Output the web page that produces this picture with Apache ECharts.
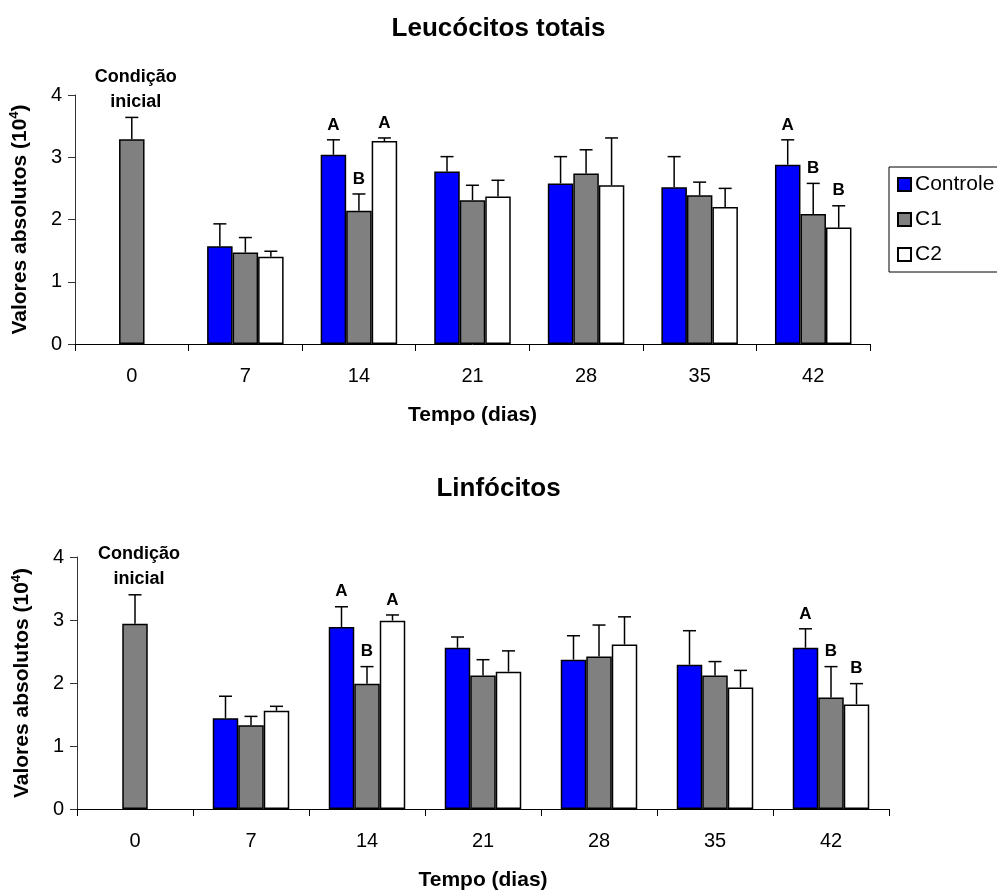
<!DOCTYPE html>
<html>
<head>
<meta charset="utf-8">
<script src="https://cdn.jsdelivr.net/npm/echarts@6/dist/echarts.min.js"></script>
<style>
html,body{margin:0;padding:0;background:#fff;}
#chart{width:997px;height:892px;}
</style>
</head>
<body>
<div id="chart"></div>
<script>
// ---- data ----
const categories = ['0', '7', '14', '21', '28', '35', '42'];
const seriesNames = ['Controle', 'C1', 'C2'];

// Leucócitos totais (mean, SD)
const leucControle   = [null, 1.57, 3.04, 2.77, 2.58, 2.52, 2.88];
const leucControleSD = [null, 0.36, 0.24, 0.24, 0.43, 0.49, 0.40];
const leucC1         = [3.29, 1.47, 2.14, 2.31, 2.74, 2.39, 2.09];
const leucC1SD       = [0.35, 0.24, 0.27, 0.24, 0.38, 0.21, 0.49];
const leucC2         = [null, 1.40, 3.26, 2.37, 2.55, 2.20, 1.87];
const leucC2SD       = [null, 0.09, 0.05, 0.26, 0.76, 0.30, 0.35];

// Linfócitos (mean, SD)
const linfControle   = [null, 1.44, 2.89, 2.56, 2.37, 2.29, 2.56];
const linfControleSD = [null, 0.35, 0.32, 0.17, 0.38, 0.54, 0.30];
const linfC1         = [2.94, 1.33, 1.99, 2.12, 2.42, 2.12, 1.77];
const linfC1SD       = [0.46, 0.14, 0.27, 0.25, 0.50, 0.22, 0.49];
const linfC2         = [null, 1.56, 2.99, 2.18, 2.61, 1.93, 1.66];
const linfC2SD       = [null, 0.07, 0.09, 0.33, 0.44, 0.27, 0.33];

// significance letters
const lettersControle = ['', '', 'A', '', '', '', 'A'];
const lettersC1       = ['Condição\ninicial', '', 'B', '', '', '', 'B'];
const lettersC2       = ['', '', 'A', '', '', '', 'B'];

const yTicks = [0, 1, 2, 3, 4];

// ---- styling ----
const FONT = 'Liberation Sans, Arial, Helvetica, sans-serif';
const BAR_W = 25.5;
const colors = ['#0000FF', '#808080', '#FFFFFF'];

const chart = echarts.init(document.getElementById('chart'), null, {renderer: 'canvas'});

function barSeries(name, gi, vals, ci) {
  return {
    name: name, type: 'bar', xAxisIndex: gi, yAxisIndex: gi,
    barWidth: BAR_W, barGap: '0%',
    data: vals.map(v => v == null ? '-' : v),
    itemStyle: {color: colors[ci], borderColor: '#000', borderWidth: 1.5},
    emphasis: {disabled: true},
    z: 2
  };
}

function errSeries(name, gi, vals, sds, letters, off) {
  const items = [];
  vals.forEach((v, i) => {
    if (v != null) items.push({i: i, v: v, top: v + sds[i], label: letters[i] || ''});
  });
  return {
    name: name + ' err', type: 'custom', xAxisIndex: gi, yAxisIndex: gi,
    data: items.map(d => [d.i, d.v, d.top]),
    z: 4, silent: true,
    renderItem: function (params, api) {
      const d = items[params.dataIndex];
      const base = api.coord([d.i, d.v]);
      const t = api.coord([d.i, d.top]);
      const x = base[0] + off * BAR_W;
      const children = [
        {type: 'line', shape: {x1: x, y1: base[1], x2: x, y2: t[1]}, style: {stroke: '#000', lineWidth: 1.5}},
        {type: 'line', shape: {x1: x - 6.5, y1: t[1], x2: x + 6.5, y2: t[1]}, style: {stroke: '#000', lineWidth: 1.5}}
      ];
      if (d.label) {
        const multi = d.label.indexOf('\n') >= 0;
        children.push({
          type: 'text',
          style: {
            x: x + (multi ? 4 : 0), y: t[1] - (multi ? 3 : 5),
            text: d.label, align: 'center', verticalAlign: 'bottom',
            font: 'bold ' + (multi ? 18 : 17) + 'px ' + FONT, fill: '#000',
            lineHeight: multi ? 25 : 20
          }
        });
      }
      return {type: 'group', children: children};
    }
  };
}

function xAxis(gi) {
  return {
    type: 'category', gridIndex: gi, data: categories,
    boundaryGap: true,
    axisLine: {lineStyle: {color: '#000', width: 1}},
    axisTick: {show: true, length: 7, interval: 0, lineStyle: {color: '#000'}},
    axisLabel: {fontSize: 20, color: '#000', fontFamily: FONT, margin: 22, interval: 0},
    name: 'Tempo (dias)', nameLocation: 'middle', nameGap: 61,
    nameTextStyle: {fontSize: 21, fontWeight: 'bold', color: '#000', fontFamily: FONT},
    splitLine: {show: false}
  };
}

function yAxis(gi) {
  return {
    type: 'value', gridIndex: gi, min: yTicks[0], max: yTicks[yTicks.length - 1], interval: 1,
    axisLine: {show: true, lineStyle: {color: '#333', width: 1}},
    axisTick: {show: true, length: 7, lineStyle: {color: '#333'}},
    axisLabel: {fontSize: 20, color: '#000', fontFamily: FONT, margin: 13},
    splitLine: {show: false},
    name: '{n|Valores absolutos (10}{s|4}{n|)}', nameLocation: 'middle', nameGap: 43,
    nameTextStyle: {
      color: '#000',
      rich: {
        n: {fontSize: 21, fontWeight: 'bold', fontFamily: FONT, color: '#000', lineHeight: 24},
        s: {fontSize: 13, fontWeight: 'bold', fontFamily: FONT, color: '#000', lineHeight: 24, verticalAlign: 'top'}
      }
    }
  };
}

const option = {
  animation: false,
  backgroundColor: '#fff',
  title: [
    {text: 'Leucócitos totais', left: 'center', top: 11,
     textStyle: {fontSize: 26, fontWeight: 'bold', color: '#000', fontFamily: FONT}},
    {text: 'Linfócitos', left: 'center', top: 471,
     textStyle: {fontSize: 26, fontWeight: 'bold', color: '#000', fontFamily: FONT}}
  ],
  legend: {
    data: seriesNames, orient: 'vertical', left: 889, top: 167,
    padding: [7, 40, 7, 8], itemWidth: 13, itemHeight: 13, itemGap: 14,
    borderColor: '#000', borderWidth: 1, backgroundColor: '#fff',
    icon: 'rect', selectedMode: false,
    textStyle: {fontSize: 21, color: '#000', fontFamily: FONT, padding: [0, 0, 0, -1]}
  },
  grid: [
    {left: 75, right: 127, top: 95, bottom: 548, containLabel: false},
    {left: 77, right: 108, top: 557, bottom: 82, containLabel: false}
  ],
  xAxis: [xAxis(0), xAxis(1)],
  yAxis: [yAxis(0), yAxis(1)],
  series: [
    barSeries('Controle', 0, leucControle, 0),
    barSeries('C1', 0, leucC1, 1),
    barSeries('C2', 0, leucC2, 2),
    errSeries('Controle', 0, leucControle, leucControleSD, lettersControle, -1),
    errSeries('C1', 0, leucC1, leucC1SD, lettersC1, 0),
    errSeries('C2', 0, leucC2, leucC2SD, lettersC2, 1),
    barSeries('Controle', 1, linfControle, 0),
    barSeries('C1', 1, linfC1, 1),
    barSeries('C2', 1, linfC2, 2),
    errSeries('Controle', 1, linfControle, linfControleSD, lettersControle, -1),
    errSeries('C1', 1, linfC1, linfC1SD, lettersC1, 0),
    errSeries('C2', 1, linfC2, linfC2SD, lettersC2, 1)
  ]
};
chart.setOption(option);
</script>
</body>
</html>
